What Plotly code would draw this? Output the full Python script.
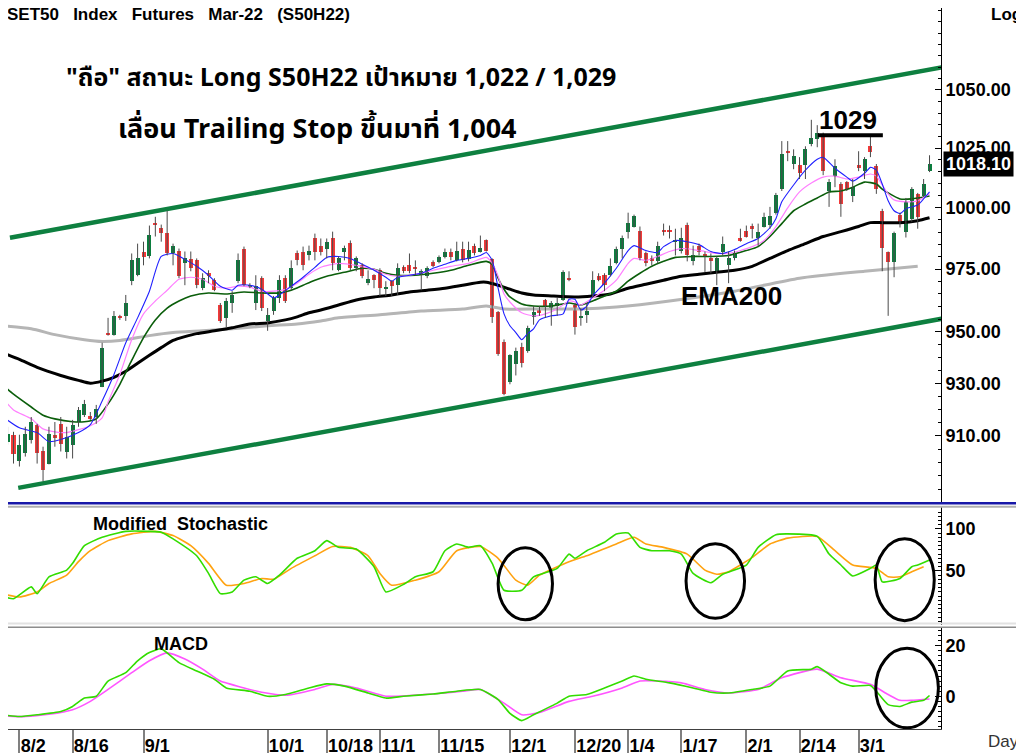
import numpy as np
import plotly.graph_objects as go

# daily bars, index 0 = first bar on the left (late July 2021)
opens = [912.3, 907.8, 910.4, 900.4, 903.7, 908.6, 914.2, 904.4, 899.3, 910.4,
         914.5, 904.1, 906.7, 915.3, 917.8, 917.5, 917.1, 928.5, 949.3, 948.9,
         956.3, 956.3, 970.1, 972.5, 981.7, 980.1, 993.5, 991.8, 989.8, 981.3,
         982.5, 977.3, 978.9, 978.5, 967.3, 973.3, 970.5, 960.6, 955.5, 961.4,
         970.1, 983.3, 967.7, 961.4, 971.3, 954.3, 958.2, 963.4, 971.3, 967.3,
         981.3, 982.1, 980.5, 987.4, 984.5, 983.3, 987.8, 974.5, 982.1, 985.7,
         975.3, 976.5, 969.3, 972.5, 974.5, 967.3, 970.1, 968.5, 975.7, 976.5,
         975.7, 972.5, 972.1, 977.7, 977.7, 979.7, 982.1, 978.5, 983.3, 978.9,
         984.5, 982.1, 986.6, 978.9, 957.9, 946.2, 930.4, 937.3, 944.2, 942.6,
         955.9, 959.0, 962.6, 959.4, 960.2, 962.6, 971.3, 960.6, 955.5, 956.7,
         964.2, 972.1, 972.5, 972.5, 977.3, 983.3, 990.2, 992.3, 990.6, 981.3,
         979.3, 978.1, 991.0, 990.6, 986.1, 982.5, 993.1, 978.1, 984.5, 980.7,
         979.3, 973.3, 981.7, 976.5, 979.3, 987.4, 990.6, 992.7, 987.8, 992.3,
         993.1, 998.0, 1007.8, 1023.7, 1018.3, 1017.8, 1017.8, 1026.6, 1028.7, 1029.9,
         1007.0, 1013.2, 1009.9, 1010.8, 1004.9, 1017.8, 1015.3, 1025.8, 1017.4, 998.8,
         981.7, 977.7, 997.2, 990.2, 995.5, 1005.7, 1004.9, 1015.3]
highs = [913.4, 913.4, 911.5, 910.4, 913.4, 917.1, 914.5, 905.9, 913.4, 915.2,
         917.1, 913.4, 916.0, 920.9, 923.6, 919.0, 921.7, 945.7, 955.5, 958.2,
         956.7, 964.6, 981.3, 985.3, 986.1, 992.7, 996.3, 993.1, 998.8, 985.3,
         983.3, 982.1, 982.1, 979.3, 973.3, 974.5, 971.3, 961.4, 963.4, 966.1,
         981.3, 984.1, 969.3, 972.5, 972.1, 959.4, 964.2, 972.5, 972.5, 978.5,
         982.5, 984.1, 984.5, 989.4, 987.4, 987.4, 990.2, 980.1, 984.5, 986.6,
         980.1, 977.3, 974.5, 972.9, 975.3, 970.1, 970.5, 977.3, 976.5, 981.3,
         978.5, 974.9, 976.1, 978.5, 980.5, 983.3, 983.3, 986.1, 986.1, 986.1,
         985.3, 988.6, 987.0, 979.3, 958.2, 947.0, 941.2, 943.8, 945.7, 952.4,
         960.2, 960.2, 963.0, 962.2, 963.4, 974.5, 974.1, 961.4, 959.4, 961.4,
         974.1, 973.3, 973.3, 979.3, 984.1, 988.6, 998.0, 997.2, 992.3, 982.1,
         980.5, 986.1, 993.5, 992.7, 991.4, 991.8, 993.9, 984.5, 985.3, 982.1,
         981.3, 980.1, 988.2, 982.1, 982.5, 991.4, 992.7, 993.5, 993.5, 998.0,
         1000.4, 1006.2, 1028.0, 1028.0, 1024.5, 1021.2, 1025.8, 1037.1, 1034.8, 1031.6,
         1012.0, 1020.3, 1010.7, 1011.1, 1012.0, 1023.7, 1021.2, 1030.0, 1018.3, 999.6,
         982.1, 990.2, 998.0, 1004.1, 1008.6, 1006.2, 1012.0, 1022.0]
lows = [904.8, 906.7, 899.6, 898.5, 902.2, 907.1, 899.6, 893.0, 899.3, 905.9,
        904.1, 901.5, 901.5, 913.4, 917.1, 916.0, 914.5, 928.5, 948.5, 948.5,
        954.7, 954.3, 968.5, 972.1, 976.5, 979.3, 988.2, 986.1, 980.5, 976.5,
        971.3, 968.5, 974.1, 967.3, 966.5, 969.3, 966.1, 953.5, 951.6, 957.5,
        969.3, 968.1, 967.3, 958.6, 958.2, 950.4, 956.7, 961.4, 961.4, 966.5,
        976.5, 974.5, 978.5, 978.5, 980.5, 979.3, 974.5, 974.1, 978.5, 974.5,
        974.1, 971.3, 968.5, 967.3, 964.2, 964.2, 964.2, 964.6, 973.3, 973.3,
        972.5, 966.5, 971.3, 975.7, 977.3, 979.3, 978.5, 978.1, 977.7, 978.1,
        980.5, 981.7, 982.1, 953.5, 940.6, 925.4, 929.6, 933.0, 936.1, 941.8,
        952.8, 956.3, 955.5, 952.4, 956.3, 962.2, 970.1, 948.9, 952.4, 953.5,
        963.4, 970.1, 966.1, 972.1, 976.9, 979.3, 987.4, 991.9, 978.5, 976.1,
        976.5, 977.3, 988.6, 987.4, 980.5, 981.3, 978.1, 976.5, 980.5, 973.7,
        973.3, 968.5, 980.5, 969.3, 978.5, 986.1, 987.8, 987.4, 984.1, 991.9,
        991.4, 997.2, 1007.0, 1019.5, 1016.1, 1012.0, 1012.0, 1025.8, 1025.4, 1013.6,
        1000.4, 1008.6, 996.3, 1007.0, 1002.4, 1015.3, 1012.0, 1021.2, 1005.8, 974.1,
        956.3, 971.7, 991.9, 987.8, 994.3, 991.4, 1004.5, 1014.9]
closes = [907.8, 910.8, 903.0, 906.7, 910.8, 915.3, 903.7, 897.1, 910.8, 909.3,
          907.1, 909.7, 914.2, 919.8, 922.1, 916.4, 920.2, 943.8, 948.9, 956.3,
          955.5, 961.4, 978.5, 979.3, 979.7, 989.0, 993.1, 989.8, 981.3, 984.5,
          972.1, 979.3, 975.3, 968.5, 971.3, 972.1, 966.5, 954.3, 962.2, 964.6,
          978.5, 968.5, 968.5, 968.1, 959.4, 956.7, 963.4, 970.5, 962.2, 975.3,
          978.5, 976.5, 982.5, 982.1, 982.1, 986.1, 977.3, 979.3, 983.7, 975.3,
          979.3, 972.1, 970.9, 970.5, 967.3, 967.7, 968.1, 975.3, 974.1, 974.1,
          975.3, 974.1, 975.3, 976.1, 979.7, 982.1, 979.7, 982.5, 978.5, 982.9,
          981.3, 983.7, 982.5, 955.9, 941.4, 925.8, 940.8, 942.6, 937.7, 951.6,
          957.9, 957.5, 959.8, 961.4, 961.4, 973.7, 970.9, 952.0, 956.3, 958.2,
          970.5, 970.5, 968.5, 976.1, 983.3, 987.4, 993.9, 996.7, 979.3, 977.3,
          978.1, 984.5, 990.2, 990.2, 986.6, 987.4, 980.5, 980.5, 982.1, 980.3,
          978.1, 979.3, 985.3, 979.3, 981.3, 986.6, 988.2, 991.4, 990.2, 996.3,
          996.7, 1005.3, 1022.6, 1023.3, 1021.6, 1014.5, 1024.5, 1029.5, 1031.6, 1015.3,
          1010.8, 1017.4, 1001.6, 1007.8, 1008.6, 1017.0, 1020.3, 1023.3, 1007.8, 983.7,
          977.7, 989.8, 993.9, 1002.5, 1007.8, 996.3, 1009.9, 1018.1]

tick_pos = [3, 12, 24, 45, 55, 64, 74, 86, 97, 106, 115, 126, 135, 145]
tick_text = ['8/2', '8/16', '9/1', '10/1', '10/18', '11/1', '11/15', '12/1',
             '12/20', '1/4', '1/17', '2/1', '2/14', '3/1']

# moving averages (bar index, value), read at turning points
ema_blue = [(0, 917.5), (3, 913.0), (6, 911.2), (8, 907.8), (10, 908.6), (13, 911.2), (15, 914.2),
            (17, 923.2), (19, 933.4), (21, 945.7), (23, 955.5), (25, 966.1), (27, 980.1), (29, 981.3),
            (31, 978.9), (33, 976.1), (35, 972.5), (37, 968.1), (39, 966.5), (40, 968.5), (42, 968.5),
            (44, 966.9), (46, 963.4), (47, 964.6), (49, 968.1), (51, 971.7), (53, 975.7), (55, 979.7),
            (57, 980.1), (59, 979.3), (61, 976.9), (63, 974.5), (65, 971.7), (66, 970.1), (67, 971.7),
            (69, 972.5), (71, 973.3), (73, 975.3), (75, 976.9), (77, 978.5), (79, 979.3), (81, 980.5),
            (82, 981.7), (83, 978.5), (84, 967.3), (85, 957.1), (86, 952.4), (87, 949.7), (88, 946.9),
            (89, 949.3), (90, 951.2), (91, 954.7), (93, 956.3), (95, 957.1), (96, 962.9), (97, 962.9),
            (98, 958.6), (99, 960.2), (100, 964.2), (102, 969.3), (104, 975.3), (106, 982.5), (107, 984.5),
            (109, 982.5), (111, 981.7), (112, 984.1), (114, 986.6), (116, 986.1), (118, 984.9), (120, 982.1),
            (122, 981.3), (124, 982.9), (126, 985.3), (128, 987.4), (130, 991.8), (131, 995.5), (132, 1002.5),
            (134, 1009.5), (136, 1015.7), (138, 1020.3), (139, 1021.1), (141, 1016.5), (143, 1012.8),
            (144, 1011.1), (146, 1014.4), (147, 1016.9), (148, 1015.7), (149, 1009.9), (150, 1002.9),
            (151, 998.8), (152, 997.6), (153, 999.6), (155, 1001.2), (156, 1003.7), (157, 1006.6)]
ema_pink = [(0, 924.7), (2, 919.8), (5, 916.4), (7, 912.6), (9, 911.5), (11, 911.2), (13, 912.3),
            (15, 913.8), (17, 916.8), (18, 922.8), (20, 933.4), (22, 946.9), (24, 957.1), (26, 962.2),
            (28, 966.5), (30, 970.9), (32, 971.7), (34, 970.9), (36, 968.1), (38, 967.3), (40, 968.1),
            (42, 967.7), (44, 966.1), (46, 966.1), (48, 966.9), (50, 969.3), (52, 972.9), (54, 975.7),
            (57, 977.3), (60, 976.5), (63, 974.9), (65, 972.9), (67, 972.1), (70, 972.9), (73, 974.5),
            (76, 976.1), (79, 977.3), (82, 979.7), (83, 977.3), (84, 972.1), (85, 965.0), (86, 961.8),
            (88, 957.5), (90, 956.3), (92, 957.1), (94, 959.0), (96, 962.2), (97, 961.8), (98, 960.6),
            (100, 963.4), (102, 966.5), (104, 970.5), (106, 977.3), (107, 979.3), (109, 978.5), (111, 980.1),
            (113, 982.1), (115, 983.3), (117, 982.9), (119, 982.1), (121, 981.3), (123, 981.3), (125, 982.5),
            (127, 984.1), (129, 986.6), (131, 992.3), (133, 1000.0), (135, 1006.6), (137, 1010.3),
            (139, 1012.8), (141, 1013.2), (143, 1012.0), (145, 1012.8), (147, 1014.1), (148, 1013.2),
            (149, 1009.5), (150, 1005.8), (151, 1003.3), (153, 1002.5), (155, 1002.9), (157, 1005.8)]
ema_green = [(0, 929.6), (2, 925.8), (5, 920.9), (7, 917.8), (9, 916.4), (12, 915.3), (14, 915.3),
             (16, 916.4), (18, 922.1), (20, 929.6), (22, 938.8), (24, 947.7), (26, 954.7), (28, 959.4),
             (30, 962.2), (32, 964.2), (35, 965.4), (38, 965.0), (41, 965.8), (44, 965.4), (47, 965.4),
             (49, 966.5), (51, 968.5), (53, 970.5), (55, 972.1), (58, 973.7), (61, 975.3), (63, 974.9),
             (65, 973.3), (67, 972.5), (70, 972.5), (73, 973.3), (76, 974.5), (79, 976.5), (82, 978.1),
             (83, 976.9), (84, 971.3), (85, 966.9), (86, 963.8), (88, 961.0), (90, 960.2), (93, 960.2),
             (96, 961.4), (98, 960.6), (100, 962.2), (102, 964.2), (104, 966.1), (106, 970.1), (108, 973.3),
             (110, 976.1), (112, 978.1), (114, 979.7), (117, 980.1), (120, 980.1), (123, 980.5), (126, 982.5),
             (128, 984.1), (130, 988.2), (132, 993.5), (134, 998.8), (136, 1001.6), (138, 1004.1),
             (140, 1006.6), (142, 1007.0), (144, 1008.6), (146, 1010.7), (148, 1009.9), (149, 1007.8),
             (150, 1006.2), (152, 1003.7), (154, 1003.7), (157, 1004.9)]
ema_black = [(0, 941.9), (3, 939.2), (6, 936.1), (10, 933.0), (13, 931.1), (15, 930.0), (17, 930.8),
             (19, 932.3), (21, 934.6), (23, 937.7), (25, 940.8), (27, 943.8), (29, 946.6), (31, 948.1),
             (33, 949.3), (36, 950.4), (39, 951.6), (42, 953.1), (45, 953.5), (48, 954.7), (50, 955.9),
             (52, 957.5), (54, 958.6), (57, 960.6), (60, 962.6), (63, 963.8), (66, 964.6), (69, 965.8),
             (72, 966.5), (75, 967.3), (78, 968.5), (81, 969.7), (82, 969.7), (84, 968.5), (86, 966.9),
             (88, 965.4), (90, 964.6), (93, 964.2), (97, 963.8), (100, 964.2), (103, 965.0), (106, 967.3),
             (109, 968.9), (112, 970.5), (115, 972.1), (118, 972.9), (121, 973.7), (124, 974.5),
             (127, 976.1), (130, 979.3), (133, 982.5), (136, 985.3), (139, 988.2), (142, 990.2),
             (145, 992.3), (147, 993.9), (149, 993.9), (152, 993.9), (155, 994.7), (157, 995.9)]
ema200 = [(0, 952.4), (5, 951.2), (9, 948.9), (14, 946.9), (17, 946.2), (20, 946.6), (25, 948.5),
          (29, 949.7), (34, 950.4), (39, 951.2), (45, 952.4), (50, 953.1), (54, 954.3), (57, 955.5),
          (64, 956.7), (71, 958.2), (78, 959.0), (82, 960.2), (85, 959.0), (91, 959.0), (98, 959.0),
          (104, 959.8), (113, 962.2), (124, 966.1), (135, 971.3), (146, 974.1), (155, 976.1)]

# trend channel end points (bar index, price)
channel_top = [(1.4, 987.7), (159.2, 1059.9)]
channel_bottom = [(2.8, 890.6), (159.2, 955.2)]
resist_level = 1030.5
resist_span = (138.1, 149.1)

# modified stochastic %K / %D
stoch_k = [(0, 20), (2, 17), (5, 31), (6, 23), (8, 43), (11, 51), (12, 59), (14, 80), (17, 90),
           (21, 97), (25, 97), (27, 96), (29, 88), (33, 68), (35, 47), (37, 23), (39, 25), (41, 39),
           (43, 43), (45, 35), (47, 45), (50, 65), (53, 74), (55, 86), (57, 78), (60, 76), (63, 55),
           (65, 25), (68, 34), (70, 43), (73, 49), (75, 74), (77, 82), (79, 78), (81, 80), (83, 59),
           (85, 27), (88, 27), (90, 43), (94, 53), (96, 70), (97, 65), (99, 74), (102, 84), (104, 94),
           (106, 95), (108, 78), (110, 74), (113, 74), (115, 70), (117, 47), (120, 36), (122, 46),
           (126, 57), (128, 78), (131, 93), (133, 94), (138, 91), (140, 70), (142, 57), (144, 44),
           (147, 53), (148, 57), (149, 37), (152, 41), (154, 55), (155, 57), (157, 63)]
stoch_d = [(0, 23), (3, 19), (6, 25), (8, 35), (11, 45), (13, 61), (15, 74), (18, 86), (22, 94),
           (26, 97), (29, 92), (32, 80), (35, 59), (38, 33), (41, 35), (44, 41), (46, 40), (49, 53),
           (53, 68), (56, 79), (59, 78), (62, 68), (64, 47), (66, 33), (70, 39), (74, 49), (77, 74),
           (81, 79), (84, 65), (87, 39), (89, 33), (91, 45), (96, 61), (99, 68), (104, 82), (107, 90),
           (109, 82), (112, 78), (116, 70), (119, 51), (121, 46), (123, 49), (127, 66), (130, 82),
           (133, 89), (138, 91), (141, 74), (144, 57), (148, 53), (150, 43), (152, 43), (154, 49),
           (156, 55)]

# MACD line and signal
macd_line = [(0, -7.3), (3, -8.0), (6, -7.3), (10, -6.0), (12, -4.0), (14, -0.7), (16, 0.0), (18, 6.0),
             (21, 9.3), (23, 14.0), (25, 17.3), (27, 18.7), (30, 13.3), (33, 10.0), (36, 6.7), (38, 3.3),
             (42, 2.0), (45, 0.0), (48, 0.7), (52, 3.3), (55, 4.9), (58, 4.0), (62, 1.3), (65, -0.7),
             (68, 0.0), (73, 0.9), (77, 2.0), (81, 2.7), (84, -1.3), (86, -6.7), (88, -9.6), (90, -7.3),
             (94, -2.7), (96, 0.0), (99, 0.7), (102, 3.3), (105, 6.0), (107, 8.0), (109, 6.7), (113, 5.3),
             (117, 3.3), (120, 1.6), (123, 1.3), (127, 2.7), (130, 4.0), (133, 10.0), (137, 10.7),
             (138, 11.7), (140, 8.7), (142, 5.3), (144, 4.0), (147, 4.3), (148, 2.0), (150, -3.3),
             (152, -4.0), (154, -2.3), (156, -1.6), (157, 0.3)]
macd_signal = [(0, -7.7), (4, -8.0), (8, -7.1), (12, -5.3), (15, -2.0), (18, 2.7), (22, 9.3), (25, 14.0),
               (28, 17.1), (31, 14.7), (34, 10.7), (37, 6.0), (41, 3.3), (44, 1.6), (48, 0.4), (53, 2.7),
               (56, 4.7), (60, 3.3), (65, 0.0), (69, 0.3), (74, 1.1), (78, 2.0), (81, 2.7), (85, -2.7),
               (88, -7.3), (91, -6.4), (96, -2.0), (100, 0.0), (105, 3.3), (108, 6.0), (111, 6.0),
               (115, 5.3), (119, 2.7), (123, 1.3), (128, 2.7), (132, 7.3), (138, 10.7), (142, 7.3),
               (147, 4.7), (150, 0.7), (152, -1.6), (154, -1.6), (157, -1.1)]

price_ticks = [910, 930, 950, 975, 1000, 1025, 1050]
stoch_ticks = [50, 100]
macd_ticks = [0, 20]

FONT = "Liberation Sans, Arial, sans-serif"
THAI_FONT = "Noto Sans Thai, Tahoma, Liberation Sans, sans-serif"

# the page puts the figure 8px in from the window corner; positions below are window pixels
OFF = 8
FIG_W, FIG_H = 1024 - OFF, 756 - OFF
AXIS_X, PLOT_BOTTOM = 941, 733
PLOT_W, PLOT_H = AXIS_X - OFF, PLOT_BOTTOM - OFF


def px(x):
    return (x - OFF) / PLOT_W


def py(y):
    return (PLOT_BOTTOM - y) / PLOT_H


def xy(pairs):
    return [p[0] for p in pairs], [p[1] for p in pairs]


idx = list(range(len(closes)))
body_lo = [min(o, c) for o, c in zip(opens, closes)]
body_h = [max(abs(c - o), 0.4) for o, c in zip(opens, closes)]
body_col = ['#0b7d3e' if c >= o else '#f23a3a' for o, c in zip(opens, closes)]
wick_x, wick_y = [], []
for i, h, l in zip(idx, highs, lows):
    wick_x += [i, i, None]
    wick_y += [l, h, None]

fig = go.Figure()

# trend channel
for pts in (channel_top, channel_bottom):
    cx, cy = xy(pts)
    fig.add_trace(go.Scatter(x=cx, y=cy, mode='lines', yaxis='y',
                             line=dict(color='#0e8040', width=4.5)))

# moving averages
ma_styles = [(ema200, '#b5b5b5', 3), (ema_black, '#000000', 3), (ema_green, '#0b5e0b', 1.6),
             (ema_pink, '#ff80ff', 1.2), (ema_blue, '#2020ff', 1.1)]
for pts, col, w in ma_styles:
    mx, my = xy(pts)
    fig.add_trace(go.Scatter(x=mx, y=my, mode='lines', yaxis='y',
                             line=dict(color=col, width=w, shape='spline', smoothing=0.6)))

# candles: wicks then bodies
fig.add_trace(go.Scatter(x=wick_x, y=wick_y, mode='lines', yaxis='y',
                         line=dict(color='#4a4a4a', width=1)))
fig.add_trace(go.Bar(x=idx, y=body_h, base=body_lo, width=0.68, yaxis='y',
                     marker=dict(color=body_col, line=dict(width=0))))

# resistance 1029
fig.add_trace(go.Scatter(x=list(resist_span), y=[resist_level] * 2, mode='lines', yaxis='y',
                         line=dict(color='black', width=4)))

# stochastic
for pts, col in ((stoch_d, '#ffa210'), (stoch_k, '#33dd00')):
    sx, sy = xy(pts)
    fig.add_trace(go.Scatter(x=sx, y=sy, mode='lines', yaxis='y2',
                             line=dict(color=col, width=1.6, shape='spline', smoothing=0.5)))

# MACD
for pts, col in ((macd_signal, '#ff55ff'), (macd_line, '#33dd00')):
    mx, my = xy(pts)
    fig.add_trace(go.Scatter(x=mx, y=my, mode='lines', yaxis='y3',
                             line=dict(color=col, width=1.6, shape='spline', smoothing=0.5)))

bold18 = dict(family=FONT, size=18, color='black', weight='bold')
common_y = dict(side='right', anchor='x', showgrid=False, zeroline=False, showline=True,
                linecolor='black', linewidth=1, ticks='inside', ticklen=6, tickcolor='black',
                tickfont=bold18)

fig.update_layout(
    width=FIG_W, height=FIG_H,
    margin=dict(l=0, r=FIG_W - PLOT_W, t=0, b=FIG_H - PLOT_H, pad=0),
    paper_bgcolor='white', plot_bgcolor='white',
    showlegend=False, bargap=0,
    xaxis=dict(range=[1.07, 158.94], anchor='y3', showgrid=False, zeroline=False,
               showline=True, linecolor='#404040', linewidth=1,
               ticks='outside', ticklen=23, tickcolor='#808080', tickwidth=1.5,
               tickvals=tick_pos, ticktext=tick_text, tickfont=bold18,
               ticklabelposition='outside right'),
    yaxis=dict(domain=[py(506), 1], type='log',
               range=[np.log10(884.95), np.log10(1086.2)],
               tickvals=price_ticks, ticktext=['%.2f' % v for v in price_ticks],
               minor=dict(tickvals=list(range(890, 1090, 5)), ticks='inside', ticklen=3,
                          tickcolor='black'),
               **common_y),
    yaxis2=dict(domain=[py(628), py(510)], range=[-13.8, 125.7],
                tickvals=stoch_ticks, ticktext=[str(v) for v in stoch_ticks],
                minor=dict(tickvals=list(range(-10, 126, 5)), ticks='inside', ticklen=3,
                           tickcolor='black'),
                **common_y),
    yaxis3=dict(domain=[0, py(631)], range=[-12.9, 27.1],
                tickvals=macd_ticks, ticktext=[str(v) for v in macd_ticks],
                minor=dict(tickvals=list(range(-12, 27, 2)), ticks='inside', ticklen=3,
                           tickcolor='black'),
                **common_y),
)

full_w = FIG_W / PLOT_W
shapes = [
    dict(type='line', xref='paper', yref='paper', x0=0, x1=full_w, y0=py(506), y1=py(506),
         line=dict(color='#1818a8', width=2.5)),
    dict(type='line', xref='paper', yref='paper', x0=0, x1=full_w, y0=py(509.5), y1=py(509.5),
         line=dict(color='#b0b0b0', width=2)),
    dict(type='line', xref='paper', yref='paper', x0=0, x1=full_w, y0=py(627), y1=py(627),
         line=dict(color='#e2e2e2', width=2)),
    dict(type='line', xref='paper', yref='paper', x0=0, x1=full_w, y0=py(630.7), y1=py(630.7),
         line=dict(color='#8c8c8c', width=1.5)),
    # circled crossovers
    dict(type='circle', xref='x', yref='y2', x0=84.0, x1=93.2, y0=-8.1, y1=77.5,
         line=dict(color='black', width=3)),
    dict(type='circle', xref='x', yref='y2', x0=115.8, x1=125.7, y0=-6.4, y1=82.3,
         line=dict(color='black', width=3)),
    dict(type='circle', xref='x', yref='y2', x0=147.8, x1=157.8, y0=-9.1, y1=88.2,
         line=dict(color='black', width=3)),
    dict(type='circle', xref='x', yref='y3', x0=147.9, x1=158.5, y0=-12.4, y1=18.9,
         line=dict(color='black', width=3)),
]
fig.update_layout(shapes=shapes)


def note(text, x, y, size=18, font=FONT, anchor='left', **kw):
    fig.add_annotation(text=text, xref='paper', yref='paper', x=px(x), y=py(y),
                       xanchor=anchor, yanchor='middle', showarrow=False,
                       font=dict(family=font, size=size, color=kw.pop('color', 'black')), **kw)


gap = '\u00a0\u00a0 '
note('<b>' + gap.join(['SET50', 'Index', 'Futures', 'Mar-22', '(S50H22)']) + '</b>', 5, 15, size=17)
note('<b>Log</b>', 989, 15, size=17)
note('<b>"ถือ" สถานะ Long S50H22 เป้าหมาย 1,022 / 1,029</b>', 341, 78, size=25,
     font=THAI_FONT, anchor='center')
note('<b>เลื่อน Trailing Stop ขึ้นมาที่ 1,004</b>', 317, 130, size=27,
     font=THAI_FONT, anchor='center')
note('<b>1029</b>', 817, 121, size=26)
note('<b>EMA200</b>', 679, 298, size=26)
note('<b>Modified\u00a0 Stochastic</b>', 91, 527)
note('<b>MACD</b>', 152, 648)
note('Day', 986, 746, size=17, color='#333333')
note('<b>%.2f</b>' % closes[-1], 943, 165, color='white', bgcolor='black', borderpad=2)

fig.write_html("out.html")
